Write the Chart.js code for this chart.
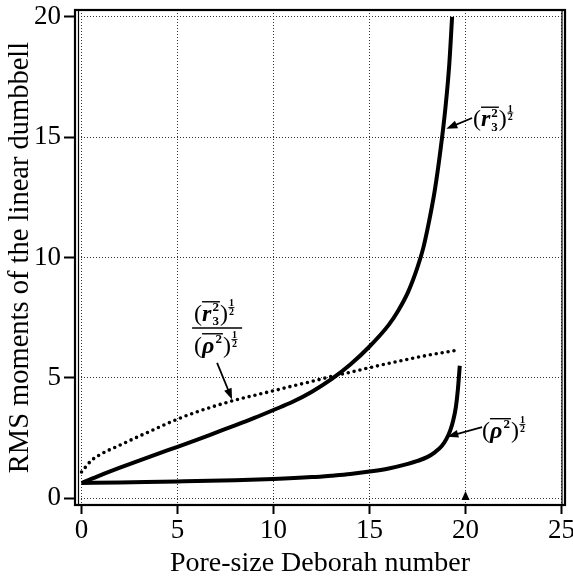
<!DOCTYPE html>
<html>
<head>
<meta charset="utf-8">
<script src="https://cdn.jsdelivr.net/npm/chart.js@4.4.1/dist/chart.umd.min.js"></script>
<style>
  body { margin: 0; background: #fff; }
  #wrap { width: 573px; height: 580px; }
</style>
</head>
<body>
<div id="wrap"><canvas id="myChart" width="573" height="580"></canvas></div>
<script>
'use strict';

//////////////// data ///////////////////

const xTicks = [0, 5, 10, 15, 20, 25];
const yTicks = [0, 5, 10, 15, 20];

// (r3^2)^1/2 curve
const r3X = [0, 1, 2, 3, 4, 5, 6, 7, 8, 9, 10, 11, 12, 13, 14, 15, 16, 16.5, 17, 17.5, 17.8, 18.1, 18.4, 18.7, 18.95, 19.15, 19.3];
const r3Y = [0.62, 0.95, 1.26, 1.56, 1.85, 2.13, 2.42, 2.72, 3.02, 3.33, 3.66, 4.0, 4.42, 4.93, 5.55, 6.3, 7.2, 7.8, 8.55, 9.6, 10.4, 11.5, 12.8, 14.5, 16.2, 18.0, 20.0];

// (rho^2)^1/2 curve
const rhoX = [0, 2, 5, 8, 10, 12, 13, 14, 15, 16, 17, 17.5, 18, 18.4, 18.75, 19.0, 19.2, 19.35, 19.5, 19.6, 19.7];
const rhoY = [0.62, 0.65, 0.69, 0.74, 0.79, 0.87, 0.93, 1.0, 1.1, 1.23, 1.42, 1.54, 1.7, 1.9, 2.15, 2.45, 2.8, 3.2, 3.8, 4.5, 5.5];

// ratio of the two (dotted)
const ratioX = [0, 0.5, 1, 2, 3, 4, 5, 6, 7, 8, 9, 10, 11, 12, 13, 14, 15, 16, 17, 18, 19, 19.6];
const ratioY = [1.08, 1.55, 1.82, 2.2, 2.57, 2.93, 3.28, 3.58, 3.84, 4.07, 4.27, 4.46, 4.66, 4.85, 5.05, 5.23, 5.42, 5.6, 5.77, 5.93, 6.07, 6.15];

const SERIF = "'Liberation Serif', 'Times New Roman', serif";

function toPoints(xs, ys) {
  let pts = [];
  for (let i = 0; i < xs.length; i++) {
    pts.push({ x: xs[i], y: ys[i] });
  }
  return pts;
}

//////////////// label drawing helpers ///////////////////

// draws (x̄_sub^2)^½ starting at left baseline (x, y), returns width
function drawMoment(ctx, x, y, base, sub, size) {
  let cx = x;
  ctx.fillStyle = '#000';
  ctx.strokeStyle = '#000';
  ctx.textBaseline = 'alphabetic';
  ctx.textAlign = 'left';

  ctx.font = size + 'px ' + SERIF;
  ctx.fillText('(', cx, y);
  cx += ctx.measureText('(').width;

  let barStart = cx;
  ctx.font = 'italic bold ' + size + 'px ' + SERIF;
  ctx.fillText(base, cx, y);
  cx += ctx.measureText(base).width + 1;

  let small = Math.round(size * 0.55);
  ctx.font = 'bold ' + small + 'px ' + SERIF;
  ctx.fillText('2', cx, y - size * 0.4);
  let w = ctx.measureText('2').width;
  if (sub) {
    ctx.fillText(sub, cx, y + size * 0.18);
  }
  cx += w + 1;

  // overline
  ctx.lineWidth = 1.4;
  ctx.beginPath();
  ctx.moveTo(barStart, y - size * 0.8);
  ctx.lineTo(cx, y - size * 0.8);
  ctx.stroke();

  ctx.font = size + 'px ' + SERIF;
  ctx.fillText(')', cx, y);
  cx += ctx.measureText(')').width + 1;

  // tiny stacked 1/2 exponent
  let tiny = Math.round(size * 0.4);
  ctx.font = 'bold ' + tiny + 'px ' + SERIF;
  let tw = ctx.measureText('1').width;
  ctx.fillText('1', cx, y - size * 0.62);
  ctx.lineWidth = 0.9;
  ctx.beginPath();
  ctx.moveTo(cx - 0.5, y - size * 0.56);
  ctx.lineTo(cx + tw + 0.5, y - size * 0.56);
  ctx.stroke();
  ctx.fillText('2', cx, y - size * 0.26);
  cx += tw + 1;

  return cx - x;
}

function drawArrow(ctx, x1, y1, x2, y2) {
  let ang = Math.atan2(y2 - y1, x2 - x1);
  let len = 11;
  let half = 4;
  ctx.strokeStyle = '#000';
  ctx.fillStyle = '#000';
  ctx.lineWidth = 1.8;
  ctx.beginPath();
  ctx.moveTo(x1, y1);
  ctx.lineTo(x2 - Math.cos(ang) * len * 0.8, y2 - Math.sin(ang) * len * 0.8);
  ctx.stroke();
  ctx.beginPath();
  ctx.moveTo(x2, y2);
  ctx.lineTo(x2 - Math.cos(ang) * len - Math.sin(ang) * half, y2 - Math.sin(ang) * len + Math.cos(ang) * half);
  ctx.lineTo(x2 - Math.cos(ang) * len + Math.sin(ang) * half, y2 - Math.sin(ang) * len - Math.cos(ang) * half);
  ctx.closePath();
  ctx.fill();
}

//////////////// frame + labels plugin ///////////////////

const frameAndLabels = {
  id: 'frameAndLabels',
  afterDatasetsDraw(chart) {
    const ctx = chart.ctx;
    const area = chart.chartArea;
    const xs = chart.scales.x;
    const ys = chart.scales.y;
    const px = v => xs.getPixelForValue(v);
    const py = v => ys.getPixelForValue(v);

    ctx.save();

    // box round the plot
    ctx.strokeStyle = '#000';
    ctx.lineWidth = 2.2;
    ctx.strokeRect(area.left, area.top, area.right - area.left, area.bottom - area.top);
    ctx.lineWidth = 1.2;
    ctx.beginPath();
    ctx.moveTo(area.left + 3.5, area.top);
    ctx.lineTo(area.left + 3.5, area.bottom);
    ctx.moveTo(area.right - 3, area.top);
    ctx.lineTo(area.right - 3, area.bottom);
    ctx.stroke();

    // curve labels
    drawMoment(ctx, px(20.39), py(15.45), 'r', '3', 24);
    drawArrow(ctx, px(20.34), py(15.8), px(19.0), py(15.35));

    drawMoment(ctx, px(20.86), py(2.5), '\u03C1', null, 24);
    drawArrow(ctx, px(20.86), py(2.95), px(19.05), py(2.55));

    // ratio label as a fraction
    let cx = px(7.06);
    let barY = py(7.07);
    let wNum = 46;
    drawMoment(ctx, cx - wNum / 2, barY - 7, 'r', '3', 24);
    drawMoment(ctx, cx - wNum / 2, barY + 25, '\u03C1', null, 24);
    ctx.lineWidth = 1.4;
    ctx.beginPath();
    ctx.moveTo(cx - 25, barY);
    ctx.lineTo(cx + 25, barY);
    ctx.stroke();
    drawArrow(ctx, px(7.06), py(5.62), px(7.84), py(4.1));

    // small marker at 20 on the x axis
    let mx = px(20);
    ctx.fillStyle = '#000';
    ctx.beginPath();
    ctx.moveTo(mx, area.bottom - 14);
    ctx.lineTo(mx - 4, area.bottom - 5);
    ctx.lineTo(mx + 4, area.bottom - 5);
    ctx.closePath();
    ctx.fill();

    ctx.restore();
  }
};

//////////////// chart ///////////////////

let ctx = document.getElementById('myChart').getContext('2d');
let myChart = new Chart(ctx, {
  type: 'line',
  data: {
    datasets: [{
      label: 'r3',
      data: toPoints(r3X, r3Y),
      borderColor: '#000',
      borderWidth: 4,
      pointRadius: 0,
      cubicInterpolationMode: 'monotone'
    }, {
      label: 'rho',
      data: toPoints(rhoX, rhoY),
      borderColor: '#000',
      borderWidth: 4,
      pointRadius: 0,
      cubicInterpolationMode: 'monotone'
    }, {
      label: 'ratio',
      data: toPoints(ratioX, ratioY),
      borderColor: '#000',
      borderWidth: 3.6,
      borderDash: [0, 6],
      borderCapStyle: 'round',
      pointRadius: 0,
      cubicInterpolationMode: 'monotone'
    }]
  },
  options: {
    responsive: false,
    animation: false,
    layout: { padding: { top: 10, right: 8, left: 0, bottom: 0 } },
    plugins: {
      legend: { display: false },
      tooltip: { enabled: false }
    },
    scales: {
      x: {
        type: 'linear',
        min: -0.34,
        max: 25.18,
        afterBuildTicks: s => { s.ticks = xTicks.map(v => ({ value: v })); },
        afterFit: s => { s.height = 75; s.paddingLeft = 0; s.paddingRight = 0; },
        grid: { color: '#333', lineWidth: 1, tickLength: 9, tickColor: '#000', tickWidth: 2 },
        border: { display: false, dash: [1, 2] },
        ticks: { color: '#000', padding: 1, font: { family: SERIF, size: 27 } },
        title: {
          display: true,
          text: 'Pore-size Deborah number',
          color: '#000',
          padding: { top: 0, bottom: 0 },
          font: { family: SERIF, size: 28 }
        }
      },
      y: {
        min: -0.29,
        max: 20.29,
        afterBuildTicks: s => { s.ticks = yTicks.map(v => ({ value: v })); },
        afterFit: s => { s.width = 75; s.paddingTop = 0; s.paddingBottom = 0; },
        grid: { color: '#333', lineWidth: 1, tickLength: 11, tickColor: '#000', tickWidth: 2 },
        border: { display: false, dash: [1, 2] },
        ticks: { color: '#000', padding: 3, font: { family: SERIF, size: 27 } },
        title: {
          display: true,
          text: 'RMS moments of the linear dumbbell',
          color: '#000',
          padding: { top: 3, bottom: 0 },
          font: { family: SERIF, size: 28.5 }
        }
      }
    }
  },
  plugins: [frameAndLabels]
});
</script>
</body>
</html>
